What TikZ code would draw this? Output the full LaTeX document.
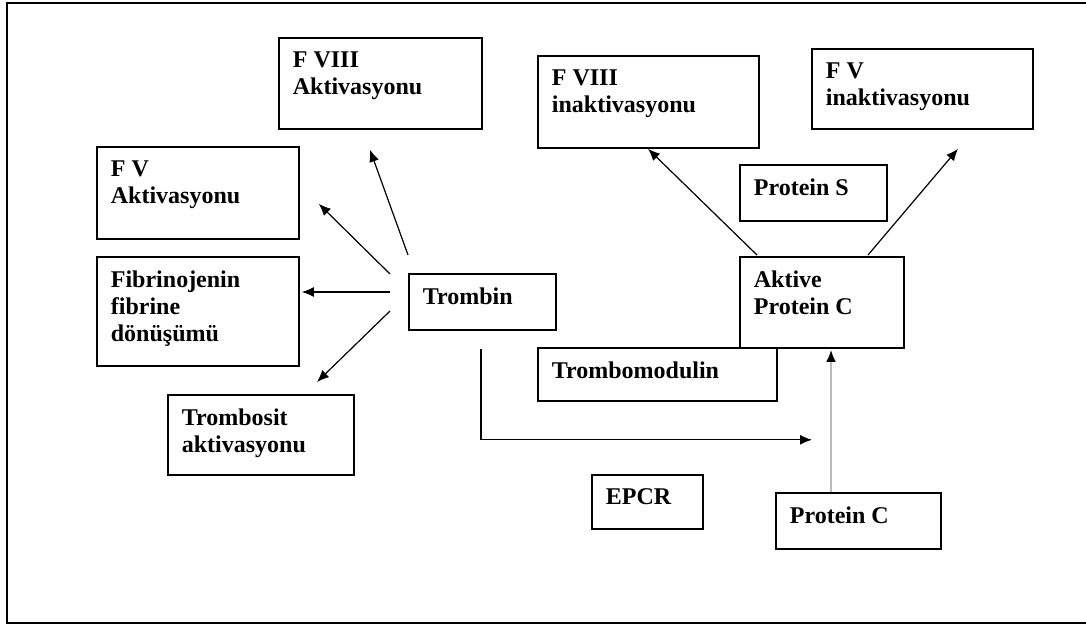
\documentclass[tikz,border=0pt]{standalone}
\usepackage{fontspec}
\setmainfont{Liberation Serif}
\usetikzlibrary{arrows.meta}
\newcommand{\boxtxt}[3]{\parbox[t][\dimexpr#2pt/2\relax][t]{\dimexpr#1pt/2\relax}{\raggedright\leftskip=7pt\parindent=0pt\vspace*{7pt}#3}}
\begin{document}
\begin{tikzpicture}[x=0.5pt,y=-0.5pt]
\tikzstyle{box}=[draw,line width=0.9pt,inner sep=0pt,anchor=north west,font=\fontsize{12pt}{13.5pt}\selectfont\bfseries]
\tikzstyle{arr}=[line width=0.6pt,-{Latex[length=6pt,width=5pt]}]
\useasboundingbox (0,0) rectangle (1086,626);
\draw[line width=1.4pt] (1086,3) -- (7,3) -- (7,623) -- (1086,623);
\foreach \name/\point/\bw/\bh/\txt in {
	fviiia/{278,37}/203/91/{F VIII\\Aktivasyonu},
	fva/{96,146}/202/92/{F V\\Aktivasyonu},
	fib/{96,256}/202/109/{Fibrinojenin\\fibrine\\dönüşümü},
	tsit/{167,394}/186/80/{Trombosit\\aktivasyonu},
	trombin/{408,273}/147/56/{Trombin},
	tmod/{537,347}/239/53/{Trombomodulin},
	aktive/{739,256}/164/91/{Aktive\\Protein C},
	fviiii/{537,55}/221/92/{F VIII\\inaktivasyonu},
	fvi/{811,48}/221/80/{F V\\inaktivasyonu},
	prots/{739,164}/147/56/{Protein S},
	epcr/{591,474}/111/54/{EPCR},
	protc/{775,492}/165/56/{Protein C}}
	\node[box] (\name) at (\point) {\boxtxt{\bw}{\bh}{\txt}};
% trombin
\draw[arr] ([shift={(0,-18)}]trombin.north west) -- ([shift={(92,20)}]fviiia.south west);
\draw[arr] ([shift={(-18,1)}]trombin.north west) -- ([shift={(19,-36)}]fva.south east);
\draw[arr] ([shift={(-18,19)}]trombin.north west) -- ([shift={(2,36)}]fib.north east);
\draw[arr] ([shift={(-18,38)}]trombin.north west) -- ([shift={(150,-12)}]tsit.north west);
\draw[arr] ([shift={(73,18)}]trombin.south west) |- ([shift={(73,91)}]aktive.south west);
% protein C
\draw[line width=1.3pt,gray!55,-{Latex[length=6pt,width=5pt,black]}] ([shift={(56,0)}]protc.north west) -- ([shift={(92,1)}]aktive.south west);
\draw[arr] ([shift={(18,-1)}]aktive.north west) -- ([shift={(111,0)}]fviiii.south west);
\draw[arr] ([shift={(129,-1)}]aktive.north west) -- ([shift={(147,19)}]fvi.south west);
\end{tikzpicture}
\end{document}
